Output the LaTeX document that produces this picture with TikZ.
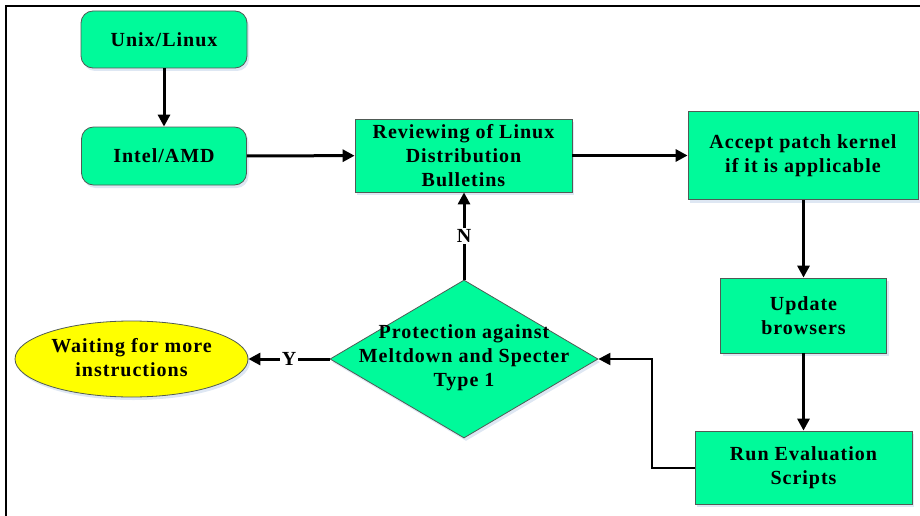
\documentclass[tikz,border=0pt]{standalone}
\usepackage{fontspec}
\setmainfont{Liberation Serif}[LetterSpace=5]
\usetikzlibrary{shapes.geometric,arrows.meta,shadows}
\definecolor{boxgreen}{RGB}{0,250,154}
\definecolor{boxyellow}{RGB}{255,255,0}
\definecolor{edgegray}{RGB}{80,90,85}
\definecolor{shadowblue}{RGB}{200,215,235}
\begin{document}
\begin{tikzpicture}[x=1pt,y=-1pt,
  txt/.style={font=\fontsize{20}{24}\selectfont\bfseries, align=center, text=black},
  shad/.style={drop shadow={shadow xshift=2pt, shadow yshift=-3pt, fill=shadowblue, opacity=0.6}},
  rbox/.style={shad, draw=edgegray, line width=0.8pt, fill=boxgreen, rounded corners=12pt, inner sep=0pt, txt},
  sbox/.style={shad, draw=edgegray, line width=0.8pt, fill=boxgreen, inner sep=0pt, txt},
  arr/.style={line width=3pt, -{Triangle[length=12pt,width=12pt]}},
  lbl/.style={fill=white, inner sep=1.5pt, txt}
]
\useasboundingbox (0,0) rectangle (920,516);
% frame
\draw[line width=1.5pt] (920,6) -- (6,6) -- (6,516);

\node[rbox, minimum width=166pt, minimum height=57pt] (unix) at (164,39.5) {Unix/Linux};
\node[rbox, minimum width=165pt, minimum height=58pt] (intel) at (164,156) {Intel/AMD};
\node[sbox, minimum width=217pt, minimum height=73pt] (rev) at (463.5,155.5) {Reviewing of Linux\\Distribution\\Bulletins};
\node[sbox, minimum width=230pt, minimum height=88pt] (acc) at (803,155.5) {Accept patch kernel\\if it is applicable};
\node[sbox, minimum width=166pt, minimum height=75pt] (upd) at (803.5,315.5) {Update\\browsers};
\node[sbox, minimum width=217pt, minimum height=73pt] (run) at (803.5,467.5) {Run Evaluation\\Scripts};
\node[shad, diamond, draw=edgegray, line width=0.8pt, fill=boxgreen, inner sep=0pt, minimum width=268pt, minimum height=158pt] (dia) at (464,359) {};
\node[txt] (diatext) at (464,358) {Protection against\\Meltdown and Specter\\Type 1};
\node[shad, ellipse, draw=edgegray, line width=0.8pt, fill=boxyellow, inner sep=0pt, minimum width=233pt, minimum height=76pt] (wait) at (131.5,359) {};
\node[txt] (waittext) at (131.5,358) {Waiting for more\\instructions};

\draw[arr] (unix) -- (intel);
\draw[arr] (intel) -- (rev);
\draw[arr] (rev) -- (acc);
\draw[arr] (acc.south -| upd.north) -- (upd.north);
\draw[arr] (upd) -- (run.north -| upd.south);
\coordinate (bend) at (652,468);
\draw[line width=2.2pt, -{Triangle[length=12pt,width=12pt]}] (run.west |- bend) -- (bend) |- (dia.east);
\draw[arr] (dia.north) -- node[lbl] (nlab) {N} (rev.south -| dia.north);
\draw[arr] (dia.west) -- node[lbl] (ylab) {Y} (wait.east);
\end{tikzpicture}
\end{document}
